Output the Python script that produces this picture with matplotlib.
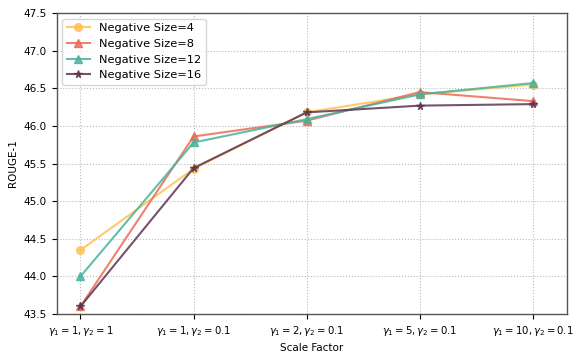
import matplotlib
matplotlib.use("Agg")
import matplotlib.pyplot as plt

categories = [r"$\gamma_1=1,\gamma_2=1$", r"$\gamma_1=1,\gamma_2=0.1$", r"$\gamma_1=2,\gamma_2=0.1$",
              r"$\gamma_1=5,\gamma_2=0.1$", r"$\gamma_1=10,\gamma_2=0.1$"]
neg4 = [44.35, 45.43, 46.18, 46.42, 46.55]
neg8 = [43.60, 45.86, 46.07, 46.45, 46.33]
neg12 = [44.00, 45.78, 46.09, 46.42, 46.57]
neg16 = [43.60, 45.44, 46.18, 46.27, 46.29]

fig, ax = plt.subplots(figsize=(5.79, 3.54), dpi=100)
x = list(range(len(categories)))
ax.plot(x, neg4, color="#FFC154", marker="o", markersize=5.5, alpha=0.85, label="Negative Size=4")
ax.plot(x, neg8, color="#EC6B56", marker="^", markersize=5.5, alpha=0.85, label="Negative Size=8")
ax.plot(x, neg12, color="#47B39C", marker="^", markersize=5.5, alpha=0.85, label="Negative Size=12")
ax.plot(x, neg16, color="#5E3552", marker="*", markersize=5.5, alpha=0.85, label="Negative Size=16")

ax.set_xticks(x)
ax.set_xticklabels(categories, fontsize=7.3)
ax.set_ylim(43.5, 47.5)
ax.set_xlim(-0.21, 4.3)
ax.set_yticks([43.5, 44.0, 44.5, 45.0, 45.5, 46.0, 46.5, 47.0, 47.5])
ax.tick_params(axis="y", labelsize=7.5)
ax.set_xlabel("Scale Factor", fontsize=7.5)
ax.set_ylabel("ROUGE-1", fontsize=7.5)
for s in ax.spines.values():
    s.set_color("#555555")
    s.set_linewidth(1.0)
ax.grid(True, linestyle=":", color="#bbbbbb", linewidth=0.8)
ax.legend(loc="upper left", fontsize=8.2)
fig.subplots_adjust(left=0.098, right=0.979, top=0.963, bottom=0.113)
fig.savefig("out.png")
